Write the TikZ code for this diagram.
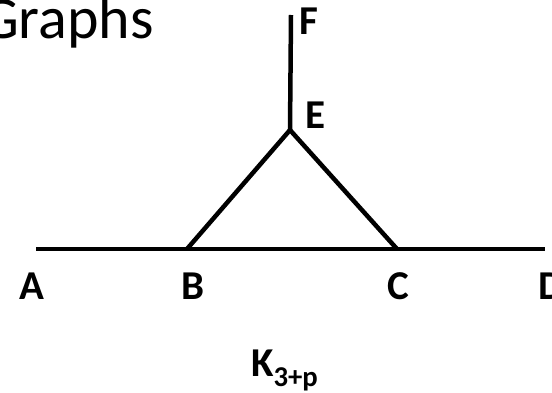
\documentclass[tikz,border=0pt]{standalone}
\usepackage{fontspec}
\setmainfont{Carlito}
\begin{document}
\begin{tikzpicture}[x=1pt,y=-1pt,
  edge/.style={line width=4.5pt,line cap=butt,line join=miter},
  lab/.style={font=\fontsize{41}{44}\selectfont\bfseries,inner sep=0pt,anchor=base},
  title/.style={font=\fontsize{60}{66}\selectfont,inner sep=0pt,anchor=base east}]
\useasboundingbox (0,0) rectangle (552,393);
\coordinate (A) at (36,249);
\coordinate (B) at (187,249);
\coordinate (C) at (397,249);
\coordinate (D) at (545,249);
\coordinate (E) at (290,130);
\coordinate (F) at (291,15);
\draw[edge] (A) -- (D);
\draw[edge] (B) -- (E) -- (C);
\draw[edge] (E) -- (F);
\node[title] (title) at (154,39) {Graphs};
\node[lab] (lA) at (32,299) {A};
\node[lab] (lB) at (193,299) {B};
\node[lab] (lC) at (398,299) {C};
\node[lab] (lD) at (551,299) {D};
\node[lab] (lE) at (315,129) {E};
\node[lab] (lF) at (309,35) {F};
\node[lab,anchor=base west] (lK) at (251,376) {K\textsubscript{3+p}};
\end{tikzpicture}
\end{document}
